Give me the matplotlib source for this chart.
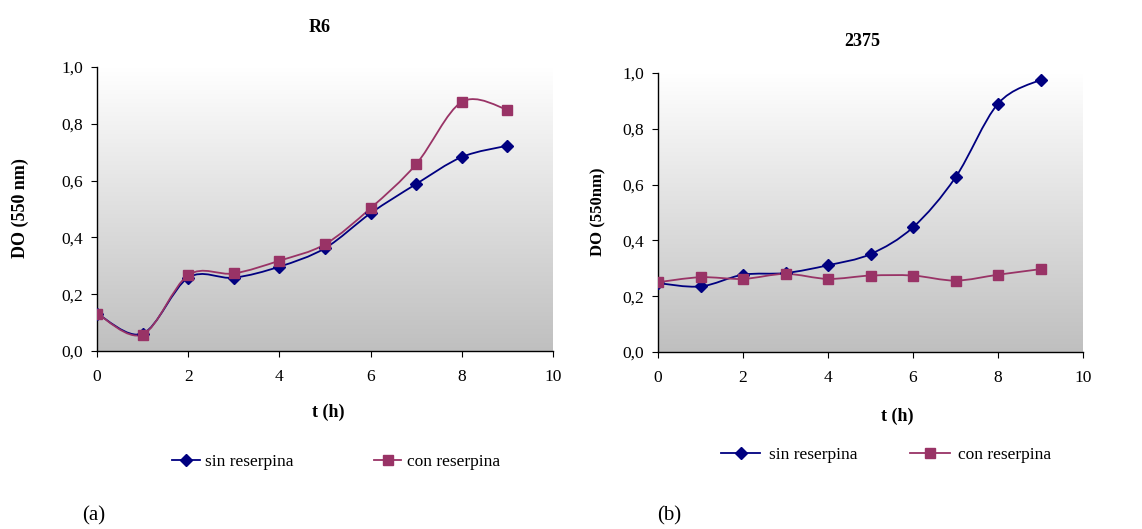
import numpy as np
import matplotlib
matplotlib.use("Agg")
import matplotlib.pyplot as plt
from matplotlib.path import Path
from matplotlib.patches import PathPatch
from matplotlib.lines import Line2D

plt.rcParams['font.family'] = ['Liberation Serif', 'DejaVu Serif']

# ---- data ----
t_hours = [0, 1, 2, 3, 4, 5, 6, 7, 8, 9]
r6_sin = [0.132, 0.061, 0.258, 0.258, 0.297, 0.362, 0.485, 0.588, 0.683, 0.723]
r6_con = [0.132, 0.058, 0.267, 0.273, 0.318, 0.376, 0.503, 0.658, 0.877, 0.850]
s2375_sin = [0.247, 0.235, 0.277, 0.283, 0.311, 0.351, 0.447, 0.626, 0.890, 0.976]
s2375_con = [0.250, 0.268, 0.262, 0.280, 0.262, 0.274, 0.274, 0.256, 0.277, 0.297]
series_names = ["sin reserpina", "con reserpina"]
x_ticks = [0, 2, 4, 6, 8, 10]
y_ticks = [0.0, 0.2, 0.4, 0.6, 0.8, 1.0]
y_ticklabels = ["0,0", "0,2", "0,4", "0,6", "0,8", "1,0"]

BLUE = "#000080"
MAG = "#993366"

W, H = 1142, 529
fig = plt.figure(figsize=(W / 100, H / 100), dpi=100)


def px_axes(l, t, r, b):
    return fig.add_axes([l / W, 1 - b / H, (r - l) / W, (b - t) / H])


def smooth_path(x, y):
    # Catmull-Rom style Bezier smoothing (like Excel's smoothed line)
    x = np.asarray(x, float)
    y = np.asarray(y, float)
    n = len(x)
    verts = [(x[0], y[0])]
    codes = [Path.MOVETO]
    for i in range(n - 1):
        x0, y0 = (x[i - 1], y[i - 1]) if i > 0 else (x[i], y[i])
        x3, y3 = (x[i + 2], y[i + 2]) if i + 2 < n else (x[i + 1], y[i + 1])
        c1 = (x[i] + (x[i + 1] - x0) / 6, y[i] + (y[i + 1] - y0) / 6)
        c2 = (x[i + 1] - (x3 - x[i]) / 6, y[i + 1] - (y3 - y[i]) / 6)
        verts += [c1, c2, (x[i + 1], y[i + 1])]
        codes += [Path.CURVE4] * 3
    return Path(verts, codes)


def panel(ax, sin_vals, con_vals):
    ax.set_xlim(0, 10)
    ax.set_ylim(0, 1.0)
    grad = np.linspace(1, 0, 256).reshape(-1, 1)
    top = np.array([1.0, 1.0, 1.0])
    bot = np.array([0.75, 0.75, 0.75])
    img = bot + (top - bot) * grad[..., None]
    img = img.reshape(256, 1, 3)
    ax.imshow(img, extent=[0, 10, 0, 1.0], aspect='auto', zorder=0,
              interpolation='bilinear')
    for vals, col, mk in [(sin_vals, BLUE, 'D'), (con_vals, MAG, 's')]:
        p = PathPatch(smooth_path(t_hours, vals), fill=False, edgecolor=col,
                      lw=1.3, zorder=3)
        ax.add_patch(p)
        ax.plot(t_hours, vals, linestyle='none', marker=mk,
                ms=7 if mk == 's' else 6.5, color=col, zorder=4)
    for s in ['top', 'right']:
        ax.spines[s].set_visible(False)
    ax.spines['left'].set_linewidth(1.0)
    ax.spines['bottom'].set_linewidth(1.0)
    ax.set_xticks(x_ticks)
    ax.set_yticks(y_ticks)
    ax.set_yticklabels(y_ticklabels)
    ax.tick_params(axis='both', labelsize=12.5, length=4, width=0.8, direction='out')
    ax.tick_params(axis='x', pad=9)
    ax.tick_params(axis='y', pad=6)


ax1 = px_axes(97, 67, 553, 351)
panel(ax1, r6_sin, r6_con)
ax2 = px_axes(658, 73, 1083, 352)
panel(ax2, s2375_sin, s2375_con)


def ftext(x, y, s, **kw):
    fig.text(x / W, 1 - y / H, s, ha='center', va='center', **kw)


ftext(320, 27, "R6", fontsize=13, fontweight='bold')
ftext(862, 42, "2375", fontsize=13, fontweight='bold')
fig.text(20 / W, 1 - 208 / H, "DO (550 nm)", rotation=90, ha='center', va='center',
         fontsize=13, fontweight='bold')
fig.text(598 / W, 1 - 212 / H, "DO (550nm)", rotation=90, ha='center', va='center',
         fontsize=12, fontweight='bold')
ftext(328, 412, "t (h)", fontsize=13, fontweight='bold')
ftext(897, 416, "t (h)", fontsize=13, fontweight='bold')
ftext(94, 516, "(a)", fontsize=15)
ftext(669, 516, "(b)", fontsize=15)

handles = [Line2D([], [], color=BLUE, lw=1.3, marker='D', ms=6.5),
           Line2D([], [], color=MAG, lw=1.3, marker='s', ms=7)]
fig.legend(handles, series_names, loc='center', bbox_to_anchor=(336 / W, 1 - 462 / H),
           ncol=2, frameon=False, fontsize=12.5, handlelength=1.6, handletextpad=0.3,
           columnspacing=4.6)
fig.legend(handles, series_names, loc='center', bbox_to_anchor=(886 / W, 1 - 455 / H),
           ncol=2, frameon=False, fontsize=12.5, handlelength=2.3, handletextpad=0.5,
           columnspacing=3.0)

fig.savefig("out.png", dpi=100)
